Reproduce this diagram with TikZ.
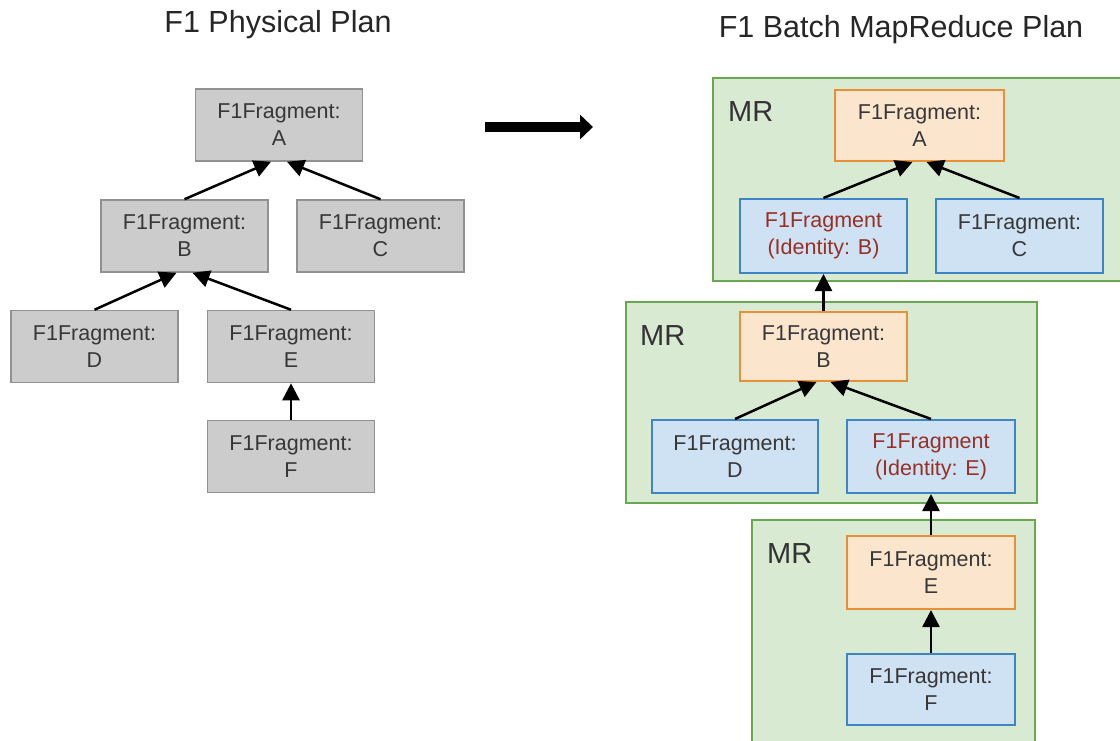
\documentclass[tikz,border=0pt]{standalone}
\usepackage{fontspec}
\setmainfont{Liberation Sans}
\usetikzlibrary{arrows.meta,calc}

\definecolor{txt}{RGB}{55,55,55}
\definecolor{idred}{RGB}{150,48,38}
\definecolor{grayfill}{RGB}{204,204,204}
\definecolor{grayline}{RGB}{145,145,145}
\definecolor{orfill}{RGB}{252,229,205}
\definecolor{orline}{RGB}{230,145,56}
\definecolor{blfill}{RGB}{207,226,243}
\definecolor{blline}{RGB}{61,133,198}
\definecolor{grfill}{RGB}{217,234,211}
\definecolor{grline}{RGB}{106,168,79}

\tikzset{
  frag/.style={rectangle, inner sep=0pt, align=center, text=txt,
    font=\fontsize{21.5}{27}\selectfont},
  graybox/.style={frag, fill=grayfill, draw=grayline, line width=1.5pt,
    minimum width=167pt, minimum height=72pt},
  orangebox/.style={frag, fill=orfill, draw=orline, line width=2pt},
  bluebox/.style={frag, fill=blfill, draw=blline, line width=2pt},
  mrbox/.style={rectangle, inner sep=0pt, fill=grfill, draw=grline, line width=2pt},
  mrlabel/.style={anchor=base west, inner sep=0pt, text=black!80,
    font=\fontsize{29}{29}\selectfont},
  ttl/.style={anchor=base, inner sep=0pt, text=black!85,
    font=\fontsize{30.5}{30.5}\selectfont},
  conn/.style={line width=2.5pt, draw=black,
    -{Triangle[length=17pt,width=17pt]}},
}

\begin{document}
\begin{tikzpicture}[x=1pt,y=-1pt]
\clip (0,0) rectangle (1120,741);
\fill[white] (0,0) rectangle (1120,741);

% titles
\node[ttl] (t1) at (278,33) {F1 Physical Plan};
\node[ttl] (t2) at (901,38) {F1 Batch MapReduce Plan};

% physical plan
\node[graybox] (pA) at (279,125) {F1Fragment:\\A};
\node[graybox] (pB) at (184.5,236) {F1Fragment:\\B};
\node[graybox] (pC) at (380.5,236) {F1Fragment:\\C};
\node[graybox] (pD) at (94.5,346.5) {F1Fragment:\\D};
\node[graybox] (pE) at (291,346.5) {F1Fragment:\\E};
\node[graybox] (pF) at (291,456.5) {F1Fragment:\\F};

\draw[conn] (pB.north) -- ($(pA.south)+(-8,0)$);
\draw[conn] (pC.north) -- ($(pA.south)+(8,0)$);
\draw[conn] (pD.north) -- ($(pB.south)+(-8,0)$);
\draw[conn] (pE.north) -- ($(pB.south)+(8,0)$);
\draw[conn] (pF.north) -- (pE.south);

% transformation arrow
\coordinate (bigL) at (485,127);
\coordinate (bigR) at (593,127);
\draw[line width=10pt, -{Triangle[length=13pt,width=24pt]}] (bigL) -- (bigR);

% MapReduce stages
\node[mrbox, minimum width=420pt, minimum height=203pt] (mr1) at (923,179.5) {};
\node[mrbox, minimum width=411pt, minimum height=201pt] (mr2) at (831.5,402.5) {};
\node[mrbox, minimum width=283pt, minimum height=222pt] (mr3) at (893.5,631) {};

\node[mrlabel] (l1) at (728,122) {MR};
\node[mrlabel] (l2) at (640,345) {MR};
\node[mrlabel] (l3) at (767,563) {MR};

% stage 1
\node[orangebox, minimum width=169pt, minimum height=71pt] (rA) at (919.5,125.5) {F1Fragment:\\A};
\node[bluebox, minimum width=167pt, minimum height=74pt, text=idred] (rIB) at (823.5,236) {F1Fragment\\(Identity: B)};
\node[bluebox, minimum width=167pt, minimum height=74pt] (rC) at (1019.5,236) {F1Fragment:\\C};

% stage 2
\node[orangebox, minimum width=167pt, minimum height=69pt] (rB) at (823.5,346.5) {F1Fragment:\\B};
\node[bluebox, minimum width=166pt, minimum height=73pt] (rD) at (735,456.5) {F1Fragment:\\D};
\node[bluebox, minimum width=168pt, minimum height=73pt, text=idred] (rIE) at (931,456.5) {F1Fragment\\(Identity: E)};

% stage 3
\node[orangebox, minimum width=168pt, minimum height=73pt] (rE) at (931,572.5) {F1Fragment:\\E};
\node[bluebox, minimum width=168pt, minimum height=71pt] (rF) at (931,689.5) {F1Fragment:\\F};

\draw[conn] (rIB.north) -- ($(rA.south)+(-7,0)$);
\draw[conn] (rC.north) -- ($(rA.south)+(7,0)$);
\draw[conn] (rB.north) -- (rIB.south);
\draw[conn] (rD.north) -- ($(rB.south)+(-7,0)$);
\draw[conn] (rIE.north) -- ($(rB.south)+(7,0)$);
\draw[conn] (rE.north) -- (rIE.south);
\draw[conn] (rF.north) -- (rE.south);
\end{tikzpicture}
\end{document}
